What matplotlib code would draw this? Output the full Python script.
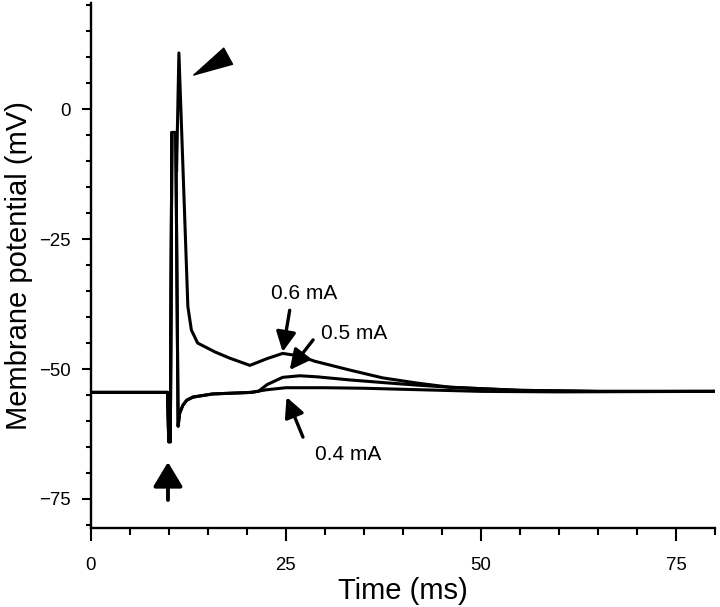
import matplotlib
matplotlib.use("Agg")
import matplotlib.pyplot as plt
from matplotlib.ticker import MultipleLocator

plt.rcParams['font.family'] = ['Liberation Sans', 'DejaVu Sans']

# traces (time in ms, potential in mV)
t_04 = [0, 9.85, 10.0, 10.2, 10.4, 10.9, 11.2, 11.4, 11.8, 12.3, 13.1, 15.6, 20.5,
        22.5, 25, 30, 35, 40, 45, 50, 60, 80]
v_04 = [-54.5, -54.5, -64, -64, -4.5, -4.5, -61, -58.5, -57, -56, -55.4, -54.8, -54.5,
        -54.0, -53.6, -53.6, -53.7, -53.9, -54.1, -54.3, -54.4, -54.3]

t_05 = [0, 9.85, 10.0, 10.2, 10.4, 10.9, 11.2, 11.4, 11.8, 12.3, 13.1, 15.6, 20.5,
        21.5, 22.6, 24.6, 26.8, 29, 33.2, 37.4, 41.8, 46, 50.3, 55, 65, 80]
v_05 = [-54.5, -54.5, -64, -64, -4.5, -4.5, -61, -58.5, -57, -56, -55.4, -54.8, -54.5,
        -54.3, -53.0, -51.6, -51.3, -51.5, -52.1, -52.6, -53.1, -53.5, -53.8, -54.1, -54.3, -54.3]

t_06 = [0, 9.85, 10.0, 10.2, 10.4, 10.9, 11.0, 11.3, 12.45, 12.9, 13.7, 15.9, 17.8,
        20.4, 22.6, 24.6, 26.8, 28.7, 33.2, 37.4, 41.8, 46, 50.3, 55, 65, 80]
v_06 = [-54.5, -54.5, -64, -64, -4.5, -4.5, -12, 10.8, -38, -42.5, -45, -46.7, -47.9,
        -49.3, -48.0, -47.0, -47.5, -48.5, -50.2, -51.7, -52.7, -53.5, -53.8, -54.1, -54.3, -54.3]

currents = ["0.4 mA", "0.5 mA", "0.6 mA"]

fig = plt.figure(figsize=(7.2, 6.07), dpi=100)
ax = fig.add_axes([0.126, 0.130, 0.867, 0.865])

for t, v in [(t_04, v_04), (t_05, v_05), (t_06, v_06)]:
    ax.plot(t, v, color='black', lw=2.2)

ax.set_xlim(0, 80)
ax.set_ylim(-80.6, 20.4)

ax.spines['top'].set_visible(False)
ax.spines['right'].set_visible(False)
ax.spines['left'].set_linewidth(1.7)
ax.spines['bottom'].set_linewidth(1.7)

ax.xaxis.set_major_locator(MultipleLocator(25))
ax.xaxis.set_minor_locator(MultipleLocator(5))
ax.yaxis.set_major_locator(MultipleLocator(25))
ax.yaxis.set_minor_locator(MultipleLocator(5))
ax.tick_params(axis='x', which='major', length=9.5, width=1.5, pad=11, labelsize=13.4)
ax.tick_params(axis='x', which='minor', length=5, width=1.5)
ax.tick_params(axis='y', which='major', length=6.5, width=1.5, pad=8, labelsize=13.4)
ax.tick_params(axis='y', which='minor', length=3.6, width=1.5)

ax.set_xlabel("Time (ms)", fontsize=21)
ax.set_ylabel("Membrane potential (mV)", fontsize=21)
ax.xaxis.set_label_coords(0.5, -0.093)
ax.yaxis.set_label_coords(-0.092, 0.5)

# stimulus arrow
ax.annotate('', xy=(9.9, -67.9), xytext=(9.9, -75.2),
            arrowprops=dict(arrowstyle='-|>,head_length=0.75,head_width=0.45',
                            color='black', lw=2.8, shrinkA=0, shrinkB=0,
                            mutation_scale=20))
# arrowhead pointing at the spike
ax.annotate('', xy=(12.9, 6.3), xytext=(17.4, 10.0),
            arrowprops=dict(arrowstyle='-|>,head_length=1.4,head_width=0.33',
                            color='black', lw=1, shrinkA=0, shrinkB=0,
                            mutation_scale=20))

# current labels and arrows
lab_xy = [(33.0, -66.5), (33.8, -43.1), (27.4, -35.4)]
tails = [(27.2, -63.1), (28.5, -44.4), (25.5, -38.7)]
tips = [(25.1, -55.4), (25.5, -50.2), (24.6, -46.7)]
for name, lxy, tl, tp in zip(currents, lab_xy, tails, tips):
    ax.text(lxy[0], lxy[1], name, fontsize=15, ha='center', va='center')
    ax.annotate('', xy=tp, xytext=tl,
                arrowprops=dict(arrowstyle='-|>,head_length=0.6,head_width=0.3',
                                color='black', lw=2.4, shrinkA=0, shrinkB=0,
                                mutation_scale=20))

fig.savefig("out.png", dpi=100)
